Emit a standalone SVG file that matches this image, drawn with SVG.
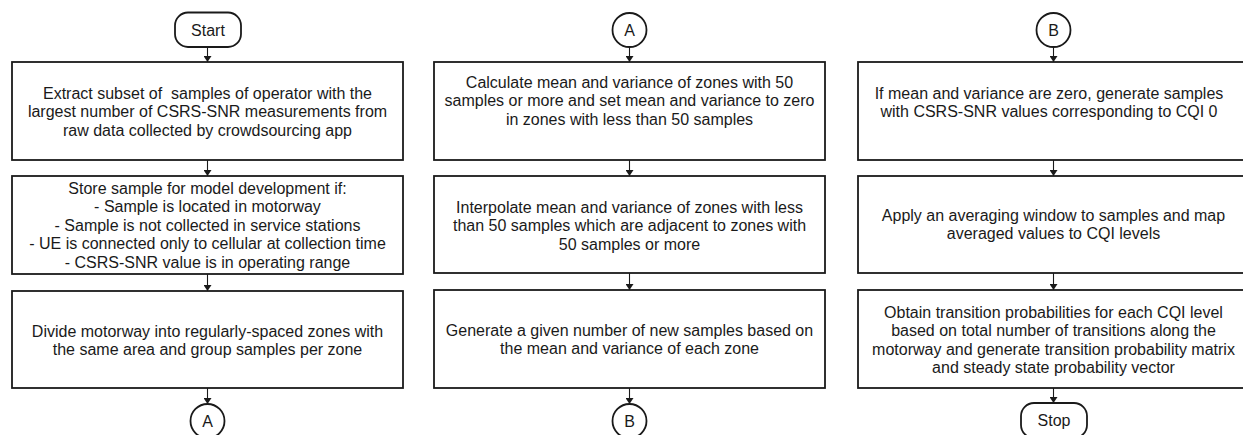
<svg xmlns="http://www.w3.org/2000/svg" width="1243" height="435" viewBox="0 0 1243 435">
<style>
.box{fill:#fff;stroke:#1a1a1a;stroke-width:1.8}
.term{fill:#fff;stroke:#1a1a1a;stroke-width:1.8}
.t{font-family:"Liberation Sans",Arial,sans-serif;font-size:16px;fill:#1a1a1a;text-anchor:middle}
.pre{white-space:pre}
.c{stroke:#1a1a1a;stroke-width:1.1;fill:none;marker-end:url(#ah)}
</style>
<defs>
<marker id="ah" viewBox="0 0 6 8" refX="6" refY="4" markerWidth="6" markerHeight="8" markerUnits="userSpaceOnUse" orient="auto">
<path d="M0,0 L6,4 L0,8 Z" fill="#1a1a1a"/>
</marker>
</defs>
<rect width="1243" height="435" fill="#fff"/>
<g id="connectors">
<line class="c" x1="207.5" y1="47" x2="207.5" y2="62"/>
<line class="c" x1="207.5" y1="160" x2="207.5" y2="176"/>
<line class="c" x1="207.5" y1="274" x2="207.5" y2="291"/>
<line class="c" x1="207.5" y1="388" x2="207.5" y2="404"/>
<line class="c" x1="629.5" y1="47" x2="629.5" y2="62"/>
<line class="c" x1="629.5" y1="160" x2="629.5" y2="176"/>
<line class="c" x1="629.5" y1="273" x2="629.5" y2="290"/>
<line class="c" x1="629.5" y1="388" x2="629.5" y2="404"/>
<line class="c" x1="1053.5" y1="47" x2="1053.5" y2="62"/>
<line class="c" x1="1053.5" y1="160" x2="1053.5" y2="176"/>
<line class="c" x1="1053.5" y1="273" x2="1053.5" y2="290"/>
<line class="c" x1="1053.5" y1="388" x2="1053.5" y2="403"/>
</g>
<g id="start">
<rect class="term" x="175" y="12.5" width="66" height="34.5" rx="13"/>
<text class="t" x="208" y="35.5">Start</text>
</g>
<g id="box1">
<rect class="box" x="12" y="62" width="391" height="98"/>
<text class="t pre" x="207.5" y="98.5" xml:space="preserve">Extract subset of  samples of operator with the</text>
<text class="t" x="207.5" y="117">largest number of CSRS-SNR measurements from</text>
<text class="t" x="207.5" y="135.5">raw data collected by crowdsourcing app</text>
</g>
<g id="box2">
<rect class="box" x="12" y="176" width="391" height="98"/>
<text class="t" x="207.5" y="193.5">Store sample for model development if:</text>
<text class="t" x="207.5" y="212.1">- Sample is located in motorway</text>
<text class="t" x="207.5" y="230.7">- Sample is not collected in service stations</text>
<text class="t" x="207.5" y="249.3">- UE is connected only to cellular at collection time</text>
<text class="t" x="207.5" y="267.9">- CSRS-SNR value is in operating range</text>
</g>
<g id="box3">
<rect class="box" x="12" y="291" width="391" height="97"/>
<text class="t" x="207.5" y="336.5">Divide motorway into regularly-spaced zones with</text>
<text class="t" x="207.5" y="355">the same area and group samples per zone</text>
</g>
<g id="connA1">
<circle class="term" cx="207.5" cy="421" r="17"/>
<text class="t" x="207.5" y="427">A</text>
</g>
<g id="connA2">
<circle class="term" cx="629.5" cy="30" r="17"/>
<text class="t" x="629.5" y="36">A</text>
</g>
<g id="box4">
<rect class="box" x="434" y="62" width="391" height="98"/>
<text class="t" x="629.5" y="87.5">Calculate mean and variance of zones with 50</text>
<text class="t" x="629.5" y="106">samples or more and set mean and variance to zero</text>
<text class="t" x="629.5" y="124.5">in zones with less than 50 samples</text>
</g>
<g id="box5">
<rect class="box" x="434" y="176" width="391" height="97"/>
<text class="t" x="629.5" y="212.5">Interpolate mean and variance of zones with less</text>
<text class="t" x="629.5" y="231">than 50 samples which are adjacent to zones with</text>
<text class="t" x="629.5" y="249.5">50 samples or more</text>
</g>
<g id="box6">
<rect class="box" x="434" y="290" width="391" height="98"/>
<text class="t" x="629.5" y="335.5">Generate a given number of new samples based on</text>
<text class="t" x="629.5" y="354">the mean and variance of each zone</text>
</g>
<g id="connB1">
<circle class="term" cx="629.5" cy="421" r="17"/>
<text class="t" x="629.5" y="427">B</text>
</g>
<g id="connB2">
<circle class="term" cx="1053.5" cy="30" r="17"/>
<text class="t" x="1053.5" y="36">B</text>
</g>
<g id="box7">
<rect class="box" x="858" y="62" width="391" height="98"/>
<text class="t" x="1049" y="98.5">If mean and variance are zero, generate samples</text>
<text class="t" x="1049" y="117">with CSRS-SNR values corresponding to CQI 0</text>
</g>
<g id="box8">
<rect class="box" x="858" y="176" width="391" height="97"/>
<text class="t" x="1053.5" y="220.5">Apply an averaging window to samples and map</text>
<text class="t" x="1053.5" y="239">averaged values to CQI levels</text>
</g>
<g id="box9">
<rect class="box" x="858" y="290" width="391" height="98"/>
<text class="t" x="1053.5" y="317.5">Obtain transition probabilities for each CQI level</text>
<text class="t" x="1053.5" y="336">based on total number of transitions along the</text>
<text class="t" x="1053.5" y="354.5">motorway and generate transition probability matrix</text>
<text class="t" x="1053.5" y="373">and steady state probability vector</text>
</g>
<g id="stop">
<rect class="term" x="1021" y="403" width="66" height="35" rx="13"/>
<text class="t" x="1054" y="425.5">Stop</text>
</g>
</svg>
